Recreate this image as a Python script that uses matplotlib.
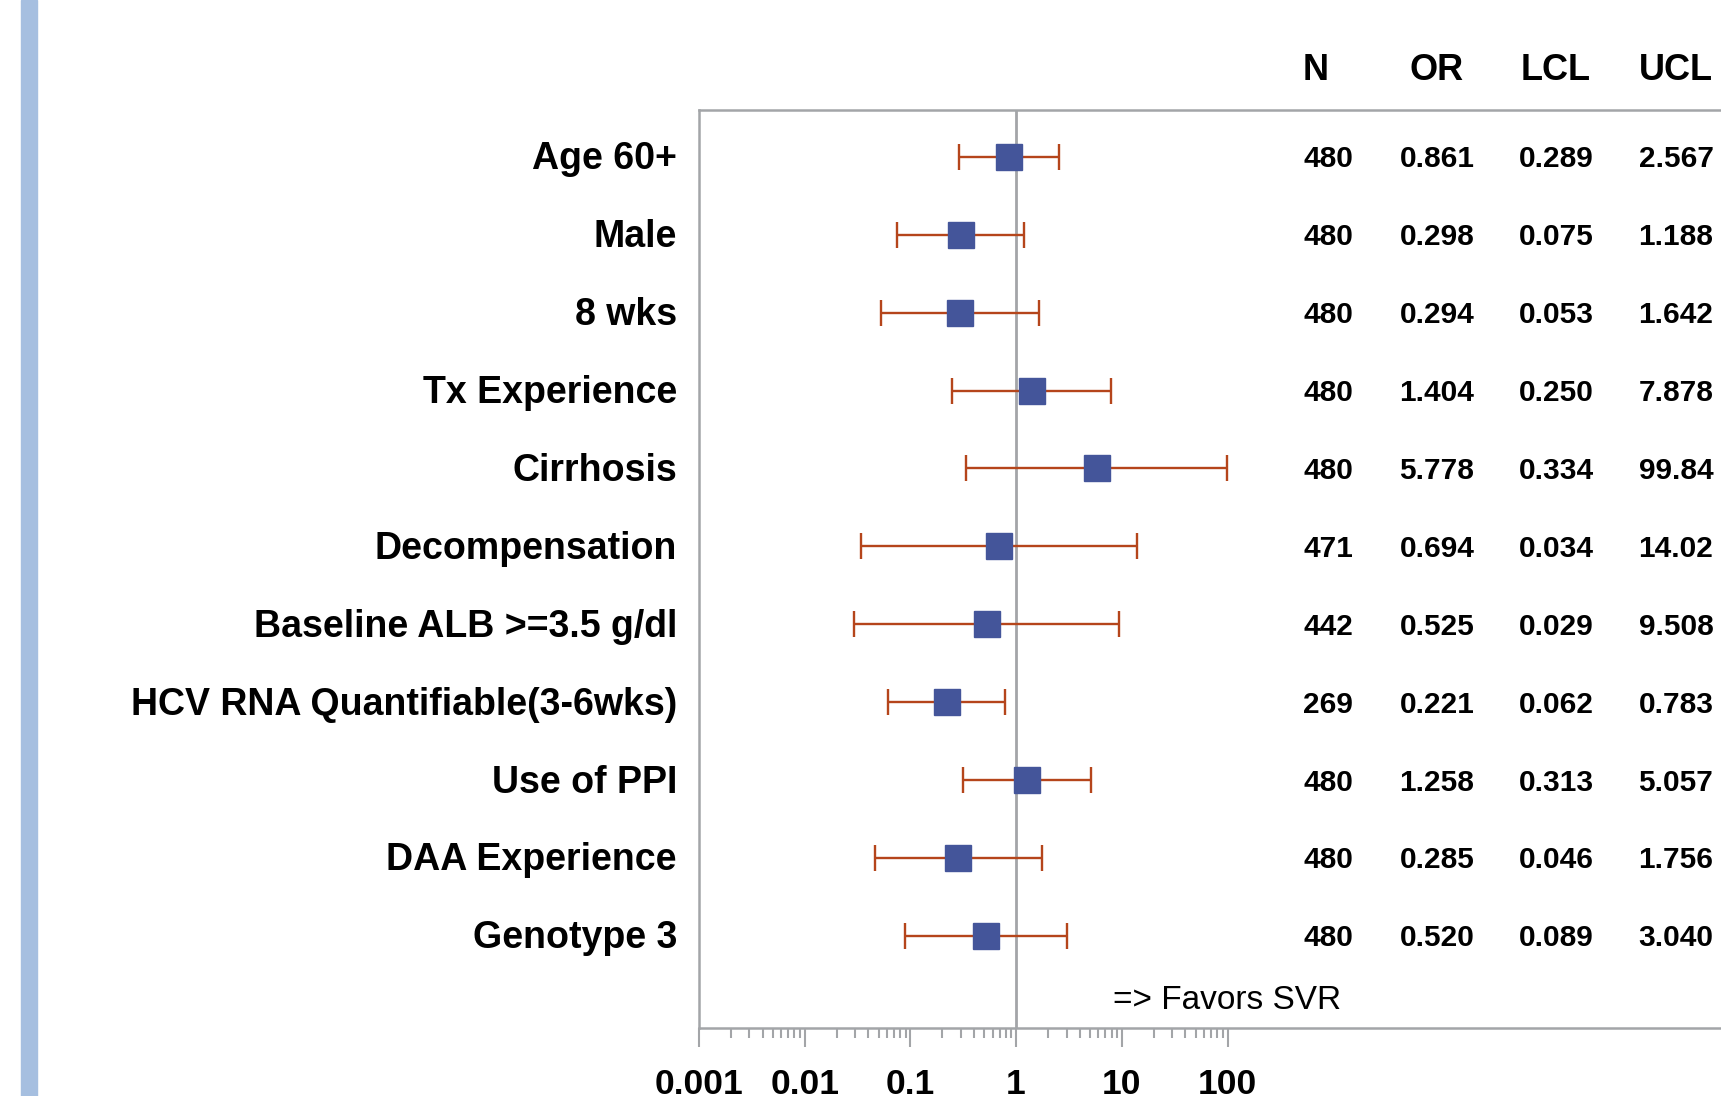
import matplotlib.pyplot as plt
from matplotlib.patches import Rectangle
from matplotlib.ticker import NullFormatter, FixedLocator, FixedFormatter
from matplotlib.transforms import blended_transform_factory

plt.rcParams['font.family'] = ['Liberation Sans', 'DejaVu Sans']

labels = ['Age 60+', 'Male', '8 wks', 'Tx Experience', 'Cirrhosis', 'Decompensation',
          'Baseline ALB >=3.5 g/dl', 'HCV RNA Quantifiable(3-6wks)', 'Use of PPI',
          'DAA Experience', 'Genotype 3']
n_vals = [480, 480, 480, 480, 480, 471, 442, 269, 480, 480, 480]
or_vals = [0.861, 0.298, 0.294, 1.404, 5.778, 0.694, 0.525, 0.221, 1.258, 0.285, 0.520]
lcl_vals = [0.289, 0.075, 0.053, 0.250, 0.334, 0.034, 0.029, 0.062, 0.313, 0.046, 0.089]
ucl_vals = [2.567, 1.188, 1.642, 7.878, 99.84, 14.02, 9.508, 0.783, 5.057, 1.756, 3.040]
ucl_text = ['2.567', '1.188', '1.642', '7.878', '99.84', '14.02', '9.508', '0.783', '5.057', '1.756', '3.040']
tick_vals = [0.001, 0.01, 0.1, 1, 10, 100]
tick_text = ['0.001', '0.01', '0.1', '1', '10', '100']

W, H = 1721, 1096
fig = plt.figure(figsize=(W / 100, H / 100), dpi=100)

# left blue stripe
fig.patches.append(Rectangle((21 / W, 0), 16 / W, 1, transform=fig.transFigure,
                             color='#a6bfe0', zorder=0))

grey = '#a3a5a8'
x0, x1 = 699, 1740
top, bot = 110, 1028
ax = fig.add_axes([x0 / W, 1 - bot / H, (x1 - x0) / W, (bot - top) / H])
ax.set_xscale('log')
dec = (x1 - x0) / 105.7
ax.set_xlim(0.001, 10 ** (-3 + dec))
rows = list(range(1, len(labels) + 1))
ax.set_ylim(12.18, 0.40)

ax.axvline(1, color=grey, lw=2, zorder=1)
err_lo = [o - l for o, l in zip(or_vals, lcl_vals)]
err_hi = [u - o for o, u in zip(or_vals, ucl_vals)]
ax.errorbar(or_vals, rows, xerr=[err_lo, err_hi], fmt='none', ecolor='#b5451b',
            elinewidth=1.7, capsize=9.4, capthick=1.7, zorder=2)
ax.plot(or_vals, rows, 's', color='#44559a', markersize=19, zorder=3)

ax.text(100, 11.83, '=> Favors SVR', ha='center', va='center', fontsize=24)

for sp in ['top', 'left', 'bottom']:
    ax.spines[sp].set_color(grey)
    ax.spines[sp].set_linewidth(1.8)
ax.spines['right'].set_visible(False)

ax.xaxis.set_major_locator(FixedLocator(tick_vals))
ax.xaxis.set_major_formatter(FixedFormatter(tick_text))
minors = [m * t for t in tick_vals[:-1] for m in range(2, 10)]
ax.xaxis.set_minor_locator(FixedLocator(minors))
ax.xaxis.set_minor_formatter(NullFormatter())
ax.tick_params(axis='x', which='major', length=14, width=1.5, color=grey,
               labelsize=25.5, pad=15)
ax.tick_params(axis='x', which='minor', length=7, width=1.5, color=grey)
for t in ax.get_xticklabels():
    t.set_fontweight('bold')
ax.set_yticks([])

tr = blended_transform_factory(fig.transFigure, ax.transData)
off = 0.03
for r, lab in zip(rows, labels):
    ax.text(677 / W, r + off, lab, transform=tr, ha='right', va='center',
            fontsize=27, fontweight='bold')

cols = [(1328, n_vals, '{}'), (1437, or_vals, '{:.3f}'), (1556, lcl_vals, '{:.3f}')]
for cx, vals, fmt in cols:
    for r, v in zip(rows, vals):
        ax.text(cx / W, r + off, fmt.format(v), transform=tr, ha='center', va='center',
                fontsize=21.5, fontweight='bold')
for r, s in zip(rows, ucl_text):
    ax.text(1676 / W, r + off, s, transform=tr, ha='center', va='center',
            fontsize=21.5, fontweight='bold')

headers = [('N', 1316), ('OR', 1437), ('LCL', 1556), ('UCL', 1676)]
for h, cx in headers:
    fig.text(cx / W, 1 - 70 / H, h, ha='center', va='center', fontsize=26,
             fontweight='bold')

fig.savefig('out.png', dpi=100)
